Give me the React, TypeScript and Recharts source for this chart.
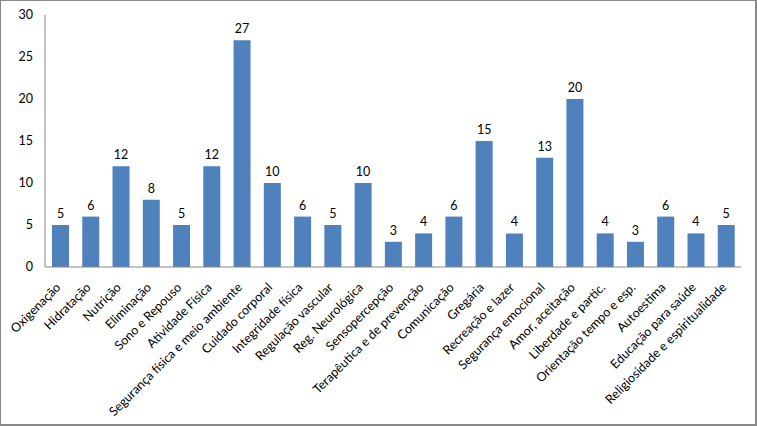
import React from "react";
import { BarChart, Bar, XAxis, YAxis, LabelList } from "recharts";

const categories = [
  "Oxigenação",
  "Hidratação",
  "Nutrição",
  "Eliminação",
  "Sono e Repouso",
  "Atividade Física",
  "Segurança física e meio ambiente",
  "Cuidado corporal",
  "Integridade física",
  "Regulação vascular",
  "Reg. Neurológica",
  "Sensopercepção",
  "Terapêutica e de prevenção",
  "Comunicação",
  "Gregária",
  "Recreação e lazer",
  "Segurança emocional",
  "Amor, aceitação",
  "Liberdade e partic.",
  "Orientação tempo e esp.",
  "Autoestima",
  "Educação para saúde",
  "Religiosidade e espiritualidade",
];

const values = [5, 6, 12, 8, 5, 12, 27, 10, 6, 5, 10, 3, 4, 6, 15, 4, 13, 20, 4, 3, 6, 4, 5];

const yTicks = [0, 5, 10, 15, 20, 25, 30];

const data = categories.map((name, i) => ({ name, value: values[i] }));

const FONT = "Lato, 'Open Sans', sans-serif";

const XTick = (props: any) => {
  const { x, y, payload } = props;
  const px = x - 2;
  const py = y + 18;
  return (
    <text
      x={px}
      y={py}
      textAnchor="end"
      transform={`rotate(-45, ${px}, ${py})`}
      fontSize={12.5}
      fontFamily={FONT}
      fill="#000"
      dominantBaseline="central"
    >
      {payload.value}
    </text>
  );
};

export default function App() {
  return (
    <div
      style={{
        position: "absolute",
        left: 0,
        top: 0,
        width: 757,
        height: 426,
        boxSizing: "border-box",
        borderLeft: "1px solid #8a8a8a",
        borderTop: "1px solid #8a8a8a",
        borderRight: "2px solid #8a8a8a",
        borderBottom: "2px solid #8a8a8a",
        background: "#fff",
        overflow: "hidden",
      }}
    >
      <div style={{ position: "absolute", left: -1, top: -1 }}>
        <BarChart
          width={757}
          height={426}
          data={data}
          margin={{ top: 15, right: 16, bottom: 0, left: 0 }}
        >
          <XAxis
            dataKey="name"
            interval={0}
            tickLine={false}
            tickSize={0}
            tickMargin={0}
            axisLine={{ stroke: "#868686" }}
            tick={<XTick />}
            height={159}
          />
          <YAxis
            width={45}
            domain={[0, 30]}
            ticks={yTicks}
            interval={0}
            tickLine={false}
            tickSize={0}
            tickMargin={12}
            axisLine={{ stroke: "#868686" }}
            tick={{ fontSize: 12.5, fontFamily: FONT, fill: "#000" }}
          />
          <Bar dataKey="value" fill="#4F81BD" barSize={17} isAnimationActive={false}>
            <LabelList
              dataKey="value"
              position="top"
              offset={7}
              style={{ fontSize: 12.5, fontFamily: FONT, fill: "#000" }}
            />
          </Bar>
        </BarChart>
      </div>
    </div>
  );
}
